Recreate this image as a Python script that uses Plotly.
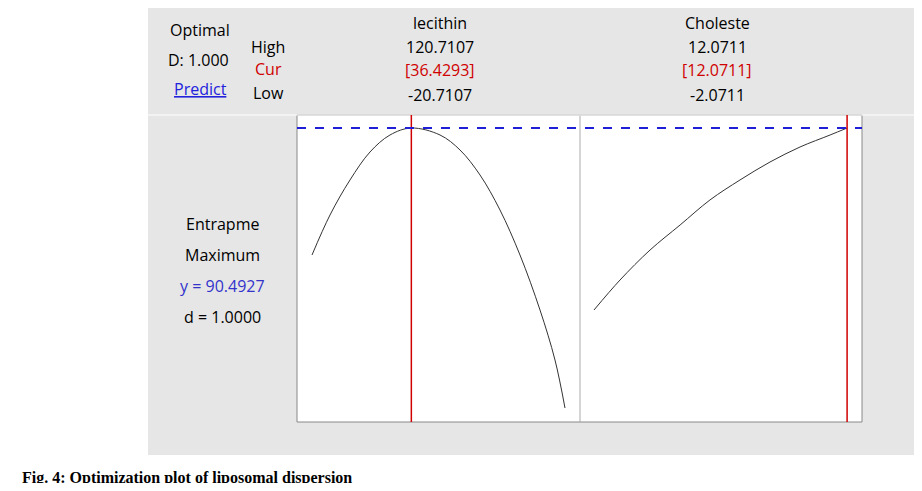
import plotly.graph_objs as go

W, H = 922, 491
OFF = 8  # page body margin

lecithin = [-13.21, -4.22, 5.77, 15.77, 25.76, 36.43, 50.75, 60.74, 70.74, 80.73, 90.72, 100.72, 108.21, 113.21]
entrap_lec = [64.64, 72.78, 79.91, 85.61, 89.07, 90.49, 89.07, 86.02, 80.93, 73.80, 64.64, 53.44, 43.26, 33.49]
choleste = [-1.33, 0.05, 1.64, 3.23, 4.81, 6.40, 7.99, 9.58, 11.17, 12.07]
entrap_chol = [53.44, 59.55, 65.66, 70.75, 75.84, 79.91, 83.57, 86.63, 89.07, 90.49]
y_opt = 90.4927
cur_lec, cur_chol = 36.4293, 12.0711

FW, FH = W - 2 * OFF, H - 2 * OFF


def px(x):
    return (x - OFF) / FW


def py(y):
    return 1 - (y - OFF) / FH


fig = go.Figure()
fig.add_trace(go.Scatter(x=lecithin, y=entrap_lec, mode='lines', line=dict(color='#333', width=1, shape='spline'),
                         xaxis='x', yaxis='y'))
fig.add_trace(go.Scatter(x=choleste, y=entrap_chol, mode='lines', line=dict(color='#333', width=1, shape='spline'),
                         xaxis='x2', yaxis='y'))

ax = dict(showgrid=False, zeroline=False, showticklabels=False, ticks='', showline=False)
yr = [30.64, 93.14]
fig.update_layout(
    width=FW, height=FH, margin=dict(l=0, r=0, t=0, b=0), showlegend=False,
    paper_bgcolor='white', plot_bgcolor='white',
    xaxis=dict(domain=[px(297), px(580)], range=[-20.71, 120.71], **ax),
    xaxis2=dict(domain=[px(580), px(862)], range=[-2.07, 12.86], **ax),
    yaxis=dict(domain=[py(422), py(115)], range=yr, **ax),
)

shapes = [
    dict(type='rect', xref='paper', yref='paper', x0=px(148), x1=1, y0=py(455), y1=1.05,
         fillcolor='#e6e6e6', line=dict(width=0), layer='below'),
    dict(type='rect', xref='paper', yref='paper', x0=px(297), x1=px(862), y0=py(422), y1=py(115),
         fillcolor='white', line=dict(color='#888', width=1), layer='below'),
    dict(type='line', xref='paper', yref='paper', x0=px(580), x1=px(580), y0=py(422), y1=py(115),
         line=dict(color='#aaa', width=1)),
    dict(type='line', xref='paper', yref='paper', x0=px(148), x1=1, y0=py(115), y1=py(115),
         line=dict(color='white', width=1)),
    dict(type='line', xref='x', yref='paper', x0=cur_lec, x1=cur_lec, y0=py(422), y1=py(115),
         line=dict(color='#d00000', width=1.5)),
    dict(type='line', xref='x2', yref='paper', x0=cur_chol, x1=cur_chol, y0=py(422), y1=py(115),
         line=dict(color='#d00000', width=1.5)),
    dict(type='line', xref='paper', yref='y', x0=px(297), x1=px(862), y0=y_opt, y1=y_opt,
         line=dict(color='#1f1fd6', width=2, dash='dash')),
]
fig.update_layout(shapes=shapes)

F = 'Open Sans'
texts = [
    ('Optimal', 200, 30, 'black'), ('D: 1.000', 198, 60, 'black'),
    ('High', 268, 47, 'black'), ('Cur', 268, 69, '#d00000'), ('Low', 268, 93, 'black'),
    ('lecithin', 440, 23, 'black'), ('120.7107', 440, 47, 'black'),
    ('[36.4293]', 440, 70, '#d00000'), ('-20.7107', 440, 95, 'black'),
    ('Choleste', 717, 23, 'black'), ('12.0711', 717, 47, 'black'),
    ('[12.0711]', 717, 70, '#d00000'), ('-2.0711', 717, 95, 'black'),
    ('Entrapme', 222, 224, 'black'), ('Maximum', 222, 255, 'black'),
    ('y = 90.4927', 222, 286, '#3333cc'), ('d = 1.0000', 222, 317, 'black'),
]
for t, x, y, c in texts:
    fig.add_annotation(text=t, x=px(x), y=py(y), xref='paper', yref='paper', showarrow=False,
                       xanchor='center', yanchor='middle', font=dict(family=F, size=16, color=c))
fig.add_annotation(text='<u>Predict</u>', x=px(200), y=py(89), xref='paper', yref='paper', showarrow=False,
                   xanchor='center', yanchor='middle', font=dict(family=F, size=16, color='#2222dd'))
fig.add_annotation(text='<b>Fig. 4: Optimization plot of liposomal dispersion</b>', x=px(20), y=py(478),
                   xref='paper', yref='paper', showarrow=False, xanchor='left', yanchor='middle',
                   font=dict(family='Liberation Serif', size=16, color='black'))

fig.write_html('out.html')
